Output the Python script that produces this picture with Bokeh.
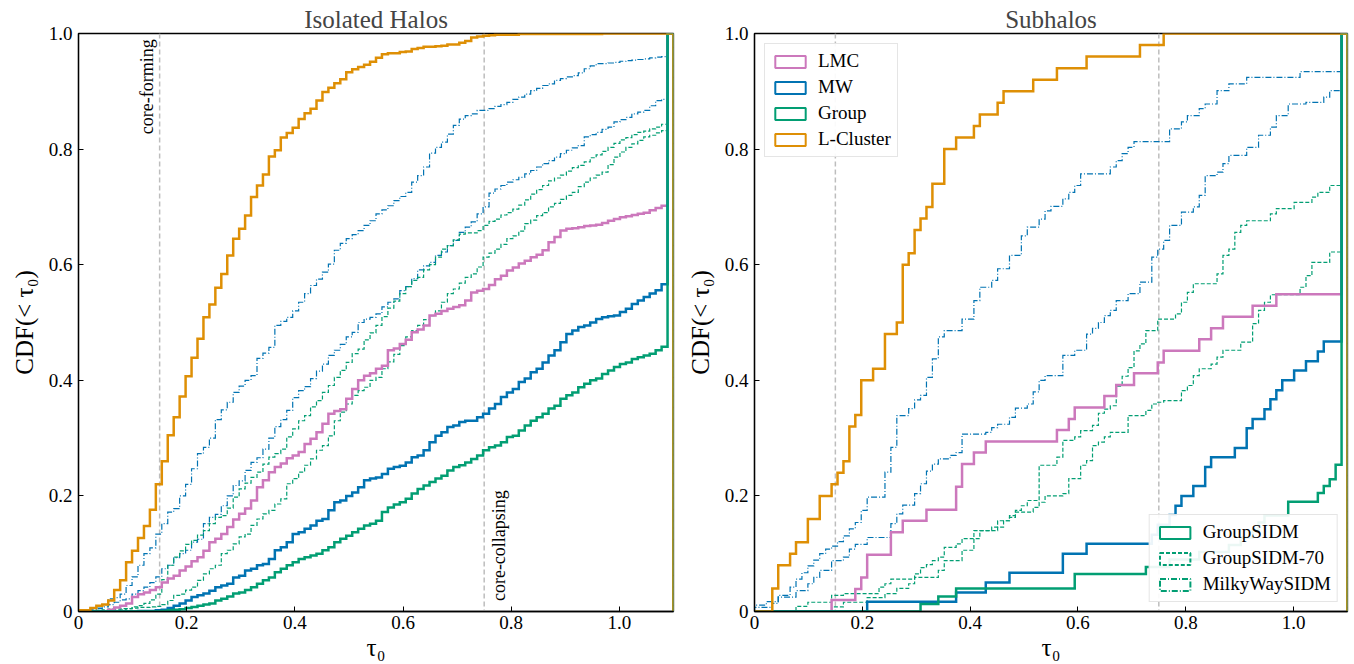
import numpy as np
from bokeh.plotting import figure
from bokeh.models import (Range1d, FixedTicker, Span, Label, Legend, LegendItem,
                          ColumnDataSource, CustomJSTickFormatter)
from bokeh.layouts import row
from bokeh.embed import file_html
from bokeh.resources import INLINE

# ---------------- data ----------------
TAU_MAX = 1.1
N_BINS = 100
edges = np.linspace(0, TAU_MAX, N_BINS + 1)

# Isolated halos: cumulative fraction in each of the 100 bins
iso_lcluster = [0.002, 0.002, 0.006, 0.010, 0.012, 0.019, 0.037, 0.054, 0.085, 0.105,
                0.127, 0.148, 0.176, 0.220, 0.260, 0.305, 0.336, 0.372, 0.407, 0.439,
                0.472, 0.509, 0.531, 0.560, 0.584, 0.616, 0.645, 0.662, 0.685, 0.717,
                0.737, 0.756, 0.787, 0.798, 0.820, 0.828, 0.837, 0.852, 0.862, 0.870,
                0.884, 0.899, 0.906, 0.914, 0.921, 0.933, 0.938, 0.942, 0.946, 0.951,
                0.958, 0.964, 0.966, 0.966, 0.968, 0.969, 0.973, 0.975, 0.977, 0.977,
                0.978, 0.979, 0.981, 0.981, 0.984, 0.987, 0.993, 0.995, 0.996, 0.997,
                0.998, 0.998, 0.998, 0.998, 0.999, 0.999, 0.999, 0.999, 0.999, 0.999,
                0.999, 0.999, 0.999, 0.999, 0.999, 0.999, 0.999, 0.999, 1.0, 1.0,
                1.0, 1.0, 1.0, 1.0, 1.0, 1.0, 1.0, 1.0, 1.0, 1.0]
iso_lmc = [0, 0, 0, 0, 0, 0.003, 0.007, 0.010, 0.014, 0.025,
           0.030, 0.033, 0.037, 0.042, 0.050, 0.057, 0.062, 0.071, 0.078, 0.087,
           0.094, 0.105, 0.120, 0.126, 0.134, 0.146, 0.159, 0.169, 0.178, 0.192,
           0.215, 0.227, 0.241, 0.250, 0.256, 0.265, 0.270, 0.276, 0.290, 0.299,
           0.310, 0.325, 0.342, 0.347, 0.350, 0.368, 0.385, 0.400, 0.408, 0.412,
           0.420, 0.425, 0.452, 0.455, 0.463, 0.470, 0.483, 0.488, 0.495, 0.512,
           0.515, 0.520, 0.524, 0.527, 0.530, 0.538, 0.552, 0.555, 0.558, 0.565,
           0.575, 0.581, 0.590, 0.595, 0.602, 0.607, 0.613, 0.617, 0.625, 0.639,
           0.648, 0.659, 0.662, 0.663, 0.665, 0.667, 0.668, 0.669, 0.672, 0.676,
           0.679, 0.682, 0.684, 0.686, 0.688, 0.690, 0.694, 0.698, 0.702, 1.0]
iso_mw = [0, 0, 0, 0, 0, 0, 0, 0, 0, 0,
          0.001, 0.001, 0.001, 0.002, 0.003, 0.006, 0.010, 0.014, 0.019, 0.025,
          0.028, 0.031, 0.036, 0.042, 0.045, 0.048, 0.059, 0.062, 0.071, 0.074,
          0.080, 0.082, 0.091, 0.106, 0.111, 0.120, 0.134, 0.137, 0.143, 0.149,
          0.157, 0.160, 0.175, 0.189, 0.192, 0.200, 0.206, 0.215, 0.227, 0.230,
          0.232, 0.238, 0.247, 0.250, 0.252, 0.258, 0.267, 0.270, 0.279, 0.293,
          0.304, 0.310, 0.319, 0.322, 0.328, 0.330, 0.330, 0.336, 0.342, 0.351,
          0.359, 0.371, 0.379, 0.385, 0.397, 0.403, 0.414, 0.420, 0.431, 0.443,
          0.452, 0.466, 0.480, 0.486, 0.492, 0.495, 0.500, 0.506, 0.509, 0.511,
          0.512, 0.518, 0.524, 0.532, 0.538, 0.544, 0.550, 0.556, 0.566, 1.0]
iso_group = [0, 0, 0, 0, 0, 0, 0, 0, 0, 0,
             0, 0, 0, 0, 0.001, 0.002, 0.003, 0.004, 0.006, 0.008,
             0.010, 0.012, 0.014, 0.019, 0.022, 0.026, 0.031, 0.033, 0.037, 0.042,
             0.048, 0.054, 0.059, 0.068, 0.074, 0.080, 0.085, 0.091, 0.094, 0.097,
             0.100, 0.106, 0.111, 0.120, 0.126, 0.131, 0.137, 0.143, 0.149, 0.152,
             0.157, 0.172, 0.180, 0.185, 0.189, 0.195, 0.204, 0.212, 0.218, 0.224,
             0.230, 0.235, 0.244, 0.250, 0.253, 0.258, 0.264, 0.270, 0.279, 0.284,
             0.287, 0.293, 0.302, 0.304, 0.313, 0.322, 0.330, 0.336, 0.342, 0.351,
             0.356, 0.368, 0.374, 0.379, 0.388, 0.394, 0.400, 0.403, 0.411, 0.417,
             0.423, 0.428, 0.431, 0.437, 0.440, 0.443, 0.446, 0.452, 0.458, 1.0]
iso_dashdot_a = [0.0, 0.003, 0.005, 0.008, 0.012, 0.022, 0.024, 0.030, 0.045, 0.060,
                 0.080, 0.100, 0.110, 0.134, 0.152, 0.172, 0.178, 0.200, 0.220, 0.247,
                 0.273, 0.284, 0.300, 0.332, 0.349, 0.362, 0.379, 0.390, 0.400, 0.408,
                 0.438, 0.447, 0.457, 0.495, 0.502, 0.509, 0.520, 0.535, 0.550, 0.564,
                 0.575, 0.587, 0.601, 0.625, 0.637, 0.645, 0.652, 0.659, 0.668, 0.676,
                 0.688, 0.695, 0.702, 0.711, 0.718, 0.725, 0.743, 0.754, 0.769, 0.793,
                 0.803, 0.812, 0.826, 0.841, 0.852, 0.858, 0.861, 0.867, 0.867, 0.870,
                 0.874, 0.877, 0.881, 0.886, 0.890, 0.895, 0.901, 0.905, 0.910, 0.913,
                 0.919, 0.922, 0.925, 0.927, 0.932, 0.939, 0.944, 0.948, 0.948, 0.949,
                 0.950, 0.952, 0.953, 0.954, 0.955, 0.956, 0.958, 0.959, 0.960, 1.0]
iso_dashdot_b = [0.0, 0.0, 0.003, 0.005, 0.008, 0.012, 0.016, 0.020, 0.022, 0.030,
                 0.036, 0.042, 0.050, 0.060, 0.074, 0.080, 0.093, 0.100, 0.106, 0.120,
                 0.125, 0.152, 0.163, 0.168, 0.183, 0.200, 0.218, 0.226, 0.244, 0.258,
                 0.266, 0.281, 0.300, 0.320, 0.332, 0.348, 0.370, 0.382, 0.389, 0.403,
                 0.416, 0.428, 0.443, 0.452, 0.462, 0.475, 0.483, 0.500, 0.506, 0.509,
                 0.515, 0.527, 0.535, 0.541, 0.555, 0.562, 0.576, 0.591, 0.598, 0.604,
                 0.616, 0.622, 0.633, 0.642, 0.656, 0.665, 0.674, 0.688, 0.700, 0.724,
                 0.731, 0.737, 0.743, 0.747, 0.751, 0.757, 0.763, 0.769, 0.775, 0.780,
                 0.786, 0.792, 0.798, 0.802, 0.806, 0.821, 0.825, 0.829, 0.834, 0.838,
                 0.847, 0.851, 0.855, 0.861, 0.864, 0.867, 0.875, 0.884, 0.886, 1.0]
iso_dashed_a = [0, 0, 0, 0.002, 0.003, 0.004, 0.004, 0.005, 0.005, 0.008,
                0.010, 0.014, 0.020, 0.030, 0.055, 0.080, 0.094, 0.105, 0.116, 0.123,
                0.132, 0.140, 0.152, 0.163, 0.166, 0.179, 0.198, 0.212, 0.222, 0.232,
                0.241, 0.255, 0.267, 0.273, 0.281, 0.302, 0.316, 0.330, 0.339, 0.354,
                0.365, 0.379, 0.391, 0.405, 0.417, 0.431, 0.446, 0.454, 0.470, 0.482,
                0.495, 0.510, 0.525, 0.537, 0.550, 0.562, 0.573, 0.578, 0.591, 0.600,
                0.613, 0.627, 0.633, 0.643, 0.653, 0.655, 0.655, 0.659, 0.668, 0.675,
                0.679, 0.686, 0.690, 0.696, 0.703, 0.712, 0.722, 0.730, 0.737, 0.745,
                0.750, 0.755, 0.762, 0.768, 0.772, 0.778, 0.785, 0.790, 0.796, 0.803,
                0.810, 0.816, 0.820, 0.825, 0.829, 0.831, 0.835, 0.838, 0.843, 1.0]
iso_dashed_b = [0, 0, 0, 0, 0, 0, 0, 0.003, 0.005, 0.006,
                0.007, 0.007, 0.008, 0.009, 0.012, 0.019, 0.028, 0.030, 0.037, 0.042,
                0.054, 0.065, 0.074, 0.080, 0.100, 0.106, 0.117, 0.129, 0.134, 0.149,
                0.160, 0.169, 0.175, 0.186, 0.195, 0.221, 0.230, 0.241, 0.253, 0.264,
                0.279, 0.287, 0.304, 0.330, 0.345, 0.359, 0.374, 0.382, 0.388, 0.400,
                0.405, 0.420, 0.432, 0.445, 0.460, 0.475, 0.486, 0.495, 0.505, 0.512,
                0.520, 0.535, 0.550, 0.558, 0.568, 0.578, 0.584, 0.596, 0.613, 0.620,
                0.627, 0.635, 0.645, 0.650, 0.658, 0.671, 0.677, 0.685, 0.690, 0.700,
                0.706, 0.713, 0.720, 0.725, 0.735, 0.743, 0.750, 0.755, 0.760, 0.773,
                0.786, 0.795, 0.803, 0.809, 0.815, 0.821, 0.824, 0.828, 0.832, 1.0]

# Subhalos: positions (tau0) of the steps and the cumulative fraction after each step
sub_lcluster_tau = [0.033, 0.044, 0.066, 0.077, 0.099, 0.121, 0.143, 0.154, 0.165, 0.176,
                    0.187, 0.198, 0.220, 0.242, 0.264, 0.275, 0.286, 0.297, 0.308, 0.319,
                    0.330, 0.352, 0.374, 0.407, 0.418, 0.451, 0.462, 0.517, 0.561, 0.616,
                    0.715, 0.759]
sub_lcluster_cdf = [0.04, 0.08, 0.10, 0.12, 0.16, 0.20, 0.22, 0.24, 0.26, 0.32,
                    0.34, 0.40, 0.42, 0.48, 0.50, 0.60, 0.62, 0.66, 0.68, 0.70,
                    0.74, 0.80, 0.82, 0.84, 0.86, 0.88, 0.90, 0.92, 0.94, 0.96,
                    0.98, 1.00]
sub_lmc_tau = [0.143, 0.187, 0.198, 0.209, 0.253, 0.275, 0.319, 0.374, 0.385, 0.407,
               0.429, 0.561, 0.583, 0.594, 0.649, 0.671, 0.704, 0.748, 0.759, 0.825,
               0.847, 0.869, 0.924, 0.968, 1.089]
sub_lmc_cdf = [0.020, 0.039, 0.059, 0.098, 0.137, 0.157, 0.176, 0.216, 0.255, 0.275,
               0.294, 0.314, 0.333, 0.353, 0.373, 0.392, 0.412, 0.431, 0.451, 0.471,
               0.490, 0.510, 0.529, 0.549, 1.0]
sub_mw_tau = [0.209, 0.374, 0.429, 0.473, 0.572, 0.616, 0.737, 0.748, 0.770, 0.781,
              0.792, 0.814, 0.836, 0.847, 0.891, 0.913, 0.924, 0.946, 0.957, 0.968,
              0.979, 1.001, 1.023, 1.045, 1.056, 1.089]
sub_mw_cdf = [0.017, 0.033, 0.050, 0.067, 0.100, 0.117, 0.133, 0.150, 0.167, 0.183,
              0.200, 0.217, 0.250, 0.267, 0.283, 0.317, 0.333, 0.350, 0.367, 0.383,
              0.400, 0.417, 0.433, 0.450, 0.467, 1.0]
sub_group_tau = [0.308, 0.341, 0.374, 0.594, 0.726, 0.770, 0.825, 0.880, 0.902, 0.924,
                 0.935, 0.946, 0.990, 1.045, 1.056, 1.067, 1.078, 1.089]
sub_group_cdf = [0.013, 0.026, 0.040, 0.065, 0.077, 0.090, 0.103, 0.115, 0.128, 0.141,
                 0.154, 0.166, 0.190, 0.205, 0.217, 0.229, 0.254, 1.0]
sub_dashdot_a_tau = [0.0, 0.022, 0.044, 0.066, 0.077, 0.088, 0.099, 0.110, 0.121, 0.132,
                     0.143, 0.154, 0.165, 0.176, 0.187, 0.198, 0.209, 0.242, 0.253, 0.264,
                     0.286, 0.297, 0.308, 0.319, 0.330, 0.341, 0.352, 0.385, 0.407, 0.418,
                     0.440, 0.451, 0.473, 0.495, 0.506, 0.528, 0.539, 0.550, 0.572, 0.583,
                     0.594, 0.605, 0.660, 0.671, 0.682, 0.693, 0.704, 0.770, 0.792, 0.803,
                     0.825, 0.836, 0.858, 0.880, 0.913, 1.012, 1.089]
sub_dashdot_a_cdf = [0.011, 0.017, 0.028, 0.042, 0.056, 0.067, 0.079, 0.089, 0.100, 0.108,
                     0.113, 0.121, 0.131, 0.143, 0.154, 0.175, 0.198, 0.241, 0.284, 0.339,
                     0.351, 0.366, 0.374, 0.405, 0.437, 0.475, 0.486, 0.506, 0.538, 0.561,
                     0.573, 0.593, 0.616, 0.650, 0.665, 0.679, 0.693, 0.701, 0.714, 0.725,
                     0.737, 0.757, 0.769, 0.780, 0.792, 0.803, 0.813, 0.835, 0.847, 0.858,
                     0.870, 0.878, 0.901, 0.913, 0.924, 0.934, 1.0]
sub_dashdot_b_tau = [0.0, 0.033, 0.044, 0.077, 0.099, 0.110, 0.121, 0.143, 0.165, 0.176,
                     0.187, 0.209, 0.253, 0.264, 0.275, 0.297, 0.308, 0.319, 0.330, 0.341,
                     0.363, 0.374, 0.385, 0.429, 0.440, 0.451, 0.473, 0.484, 0.506, 0.517,
                     0.528, 0.539, 0.572, 0.594, 0.616, 0.627, 0.638, 0.649, 0.660, 0.671,
                     0.693, 0.715, 0.737, 0.748, 0.759, 0.770, 0.792, 0.814, 0.825, 0.836,
                     0.858, 0.869, 0.880, 0.913, 0.935, 0.957, 0.968, 0.990, 1.023, 1.056,
                     1.067, 1.089]
sub_dashdot_b_cdf = [0.007, 0.014, 0.025, 0.036, 0.048, 0.059, 0.071, 0.088, 0.094, 0.108,
                     0.116, 0.128, 0.152, 0.169, 0.184, 0.204, 0.221, 0.243, 0.255, 0.264,
                     0.270, 0.275, 0.307, 0.310, 0.318, 0.324, 0.336, 0.352, 0.359, 0.380,
                     0.400, 0.408, 0.443, 0.452, 0.480, 0.490, 0.500, 0.512, 0.521, 0.538,
                     0.550, 0.570, 0.613, 0.627, 0.642, 0.668, 0.691, 0.700, 0.720, 0.754,
                     0.760, 0.775, 0.789, 0.803, 0.824, 0.838, 0.858, 0.878, 0.881, 0.890,
                     0.901, 1.0]
sub_dashed_a_tau = [0.077, 0.099, 0.143, 0.165, 0.231, 0.242, 0.253, 0.297, 0.308, 0.319,
                    0.330, 0.341, 0.352, 0.374, 0.385, 0.407, 0.440, 0.451, 0.473, 0.484,
                    0.495, 0.506, 0.528, 0.561, 0.572, 0.594, 0.605, 0.627, 0.638, 0.649,
                    0.660, 0.671, 0.682, 0.693, 0.704, 0.715, 0.726, 0.748, 0.781, 0.792,
                    0.803, 0.814, 0.858, 0.869, 0.880, 0.891, 0.902, 0.913, 0.957, 0.968,
                    1.001, 1.034, 1.045, 1.067, 1.089]
sub_dashed_a_cdf = [0.009, 0.016, 0.028, 0.031, 0.042, 0.048, 0.056, 0.065, 0.076, 0.081,
                    0.088, 0.094, 0.111, 0.117, 0.126, 0.140, 0.146, 0.157, 0.166, 0.175,
                    0.183, 0.192, 0.253, 0.267, 0.296, 0.302, 0.313, 0.322, 0.343, 0.350,
                    0.356, 0.390, 0.407, 0.422, 0.451, 0.463, 0.486, 0.506, 0.515, 0.535,
                    0.552, 0.567, 0.584, 0.616, 0.627, 0.656, 0.668, 0.676, 0.688, 0.697,
                    0.708, 0.717, 0.725, 0.737, 1.0]
sub_dashed_b_tau = [0.143, 0.165, 0.209, 0.242, 0.264, 0.286, 0.297, 0.341, 0.352, 0.385,
                    0.407, 0.418, 0.451, 0.462, 0.473, 0.484, 0.517, 0.528, 0.539, 0.572,
                    0.583, 0.605, 0.616, 0.627, 0.638, 0.649, 0.660, 0.693, 0.726, 0.737,
                    0.748, 0.759, 0.792, 0.803, 0.814, 0.825, 0.847, 0.858, 0.869, 0.902,
                    0.924, 0.935, 0.946, 0.957, 1.012, 1.023, 1.034, 1.067, 1.089]
sub_dashed_b_cdf = [0.008, 0.016, 0.024, 0.031, 0.040, 0.048, 0.059, 0.071, 0.088, 0.106,
                    0.126, 0.140, 0.146, 0.157, 0.163, 0.172, 0.180, 0.189, 0.200, 0.204,
                    0.230, 0.253, 0.261, 0.287, 0.293, 0.302, 0.310, 0.339, 0.348, 0.359,
                    0.362, 0.365, 0.382, 0.391, 0.408, 0.420, 0.428, 0.440, 0.452, 0.466,
                    0.498, 0.521, 0.535, 0.548, 0.561, 0.581, 0.604, 0.622, 1.0]

HOSTS = ["LMC", "MW", "Group", "L-Cluster"]
MODELS = ["GroupSIDM", "GroupSIDM-70", "MilkyWaySIDM"]
MARKER_TAUS = [0.15, 0.75]
TICKS = [0, 0.2, 0.4, 0.6, 0.8, 1.0]

# ---------------- style ----------------
FONT = "Liberation Serif"
C_LMC, C_MW, C_GROUP, C_LC = "#cc78bc", "#0173b2", "#029e73", "#de8f05"
DASH = "4 2"
DASHDOT = "6 2 1 2"
W_THICK, W_THIN = 2.5, 1.2
FIG_H = 664


def bin_path(levels):
    xs = [0.0] + list(edges[:-1]) + [TAU_MAX]
    ys = [0.0] + list(levels) + [0.0]
    return xs, ys


def step_path(taus, cdfs):
    xs = [0.0] + list(taus) + [TAU_MAX]
    ys = [0.0] + list(cdfs) + [0.0]
    return xs, ys


def make_fig(title, width, left, right):
    p = figure(width=width, height=FIG_H, output_backend="svg", toolbar_location=None,
               x_range=Range1d(0, TAU_MAX), y_range=Range1d(0, 1),
               min_border_left=left, min_border_right=right,
               min_border_top=33, min_border_bottom=53,
               background_fill_color="white", border_fill_color="white")
    p.title.text = title
    p.title.align = "center"
    p.title.text_font = FONT
    p.title.text_font_size = "25px"
    p.title.text_font_style = "normal"
    p.title.standoff = 2
    p.grid.visible = False
    p.outline_line_color = "black"
    p.outline_line_width = 1.3
    fmt = CustomJSTickFormatter(code="return tick == 0 ? '0' : tick.toFixed(1);")
    for ax in (p.xaxis[0], p.yaxis[0]):
        ax.ticker = FixedTicker(ticks=TICKS)
        ax.formatter = fmt
        ax.major_tick_in = 5
        ax.major_tick_out = 0
        ax.minor_tick_line_color = None
        ax.axis_line_color = "black"
        ax.axis_line_width = 1.3
        ax.major_tick_line_color = "black"
        ax.major_label_text_font = FONT
        ax.major_label_text_font_size = "19px"
        ax.major_label_text_color = "black"
        ax.axis_label_text_font = FONT
        ax.axis_label_text_font_style = "normal"
        ax.axis_label_text_font_size = "25px"
        ax.axis_label_text_color = "black"
    p.xaxis[0].major_label_standoff = 4
    p.xaxis[0].axis_label_standoff = 2
    p.yaxis[0].major_label_standoff = 6
    p.yaxis[0].axis_label_standoff = 8
    p.xaxis[0].axis_label = "τ₀"
    p.yaxis[0].axis_label = "CDF(< τ₀)"
    for t in MARKER_TAUS:
        p.add_layout(Span(location=t, dimension="height", line_color="#bdbdbd",
                          line_dash="5 3", line_width=1.5, level="underlay"))
    return p


# ---------------- left panel ----------------
p1 = make_fig("Isolated Halos", 683, 78, 10)
for lv, col, dash in [(iso_dashdot_a, C_MW, DASHDOT), (iso_dashdot_b, C_MW, DASHDOT),
                      (iso_dashed_a, C_GROUP, DASH), (iso_dashed_b, C_GROUP, DASH)]:
    xs, ys = bin_path(lv)
    p1.step(xs, ys, mode="after", line_color=col, line_width=W_THIN, line_dash=dash,
            line_join="miter")
for lv, col in [(iso_lmc, C_LMC), (iso_mw, C_MW), (iso_group, C_GROUP), (iso_lcluster, C_LC)]:
    xs, ys = bin_path(lv)
    p1.step(xs, ys, mode="after", line_color=col, line_width=W_THICK, line_join="miter")

p1.add_layout(Label(x=0.126, y=0.99, text="core-forming", angle=np.pi / 2,
                    text_align="right", text_baseline="middle", text_font=FONT,
                    text_font_size="18px", text_color="black"))
p1.add_layout(Label(x=0.778, y=0.018, text="core-collapsing", angle=np.pi / 2,
                    text_align="left", text_baseline="middle", text_font=FONT,
                    text_font_size="18px", text_color="black"))

# ---------------- right panel ----------------
p2 = make_fig("Subhalos", 671, 70, 7)
for tt, cc, col, dash in [(sub_dashdot_a_tau, sub_dashdot_a_cdf, C_MW, DASHDOT),
                          (sub_dashdot_b_tau, sub_dashdot_b_cdf, C_MW, DASHDOT),
                          (sub_dashed_a_tau, sub_dashed_a_cdf, C_GROUP, DASH),
                          (sub_dashed_b_tau, sub_dashed_b_cdf, C_GROUP, DASH)]:
    xs, ys = step_path(tt, cc)
    p2.step(xs, ys, mode="after", line_color=col, line_width=W_THIN, line_dash=dash,
            line_join="miter")
for tt, cc, col in [(sub_lmc_tau, sub_lmc_cdf, C_LMC), (sub_mw_tau, sub_mw_cdf, C_MW),
                    (sub_group_tau, sub_group_cdf, C_GROUP),
                    (sub_lcluster_tau, sub_lcluster_cdf, C_LC)]:
    xs, ys = step_path(tt, cc)
    p2.step(xs, ys, mode="after", line_color=col, line_width=W_THICK, line_join="miter")


def legend_patch(p, col, dash="solid"):
    # a single off-range patch: only its legend swatch is seen
    src = ColumnDataSource(dict(left=[-3.0], right=[-2.0], top=[-2.0], bottom=[-3.0]))
    return p.quad(left="left", right="right", top="top", bottom="bottom", source=src,
                  fill_alpha=0, line_color=col, line_width=2, line_dash=dash)


host_items = [LegendItem(label=h, renderers=[legend_patch(p2, c)])
              for h, c in zip(HOSTS, [C_LMC, C_MW, C_GROUP, C_LC])]
model_items = [LegendItem(label=m, renderers=[legend_patch(p2, C_GROUP, d)])
               for m, d in zip(MODELS, ["solid", DASH, DASHDOT])]


def style_legend(leg):
    leg.label_text_font = FONT
    leg.label_text_font_size = "19px"
    leg.label_text_color = "black"
    leg.glyph_width = 38
    leg.glyph_height = 15
    leg.label_height = 20
    leg.label_standoff = 9
    leg.spacing = 4
    leg.padding = 6
    leg.border_line_color = "#cccccc"
    leg.border_line_width = 1
    leg.background_fill_alpha = 0.92


leg1 = Legend(items=host_items, location="top_left", margin=10)
leg2 = Legend(items=model_items, location="bottom_right", margin=9)
style_legend(leg1)
style_legend(leg2)
p2.add_layout(leg1)
p2.add_layout(leg2)

layout = row(p1, p2)
open("out.html", "w").write(file_html(layout, INLINE))
